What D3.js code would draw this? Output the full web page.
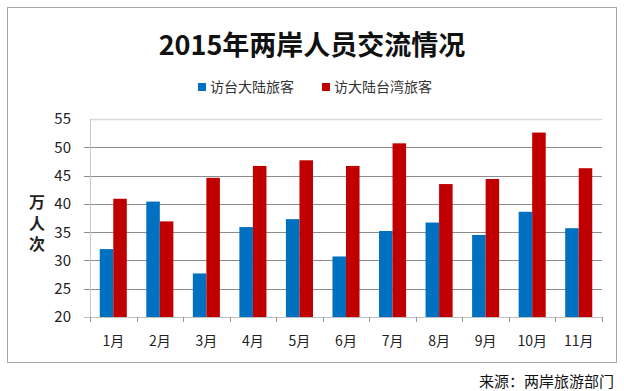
<!DOCTYPE html>
<html>
<head>
<meta charset="utf-8">
<script src="https://cdn.jsdelivr.net/npm/d3@7"></script>
<style>
  body { margin: 0; background: #fff; }
  svg { display: block; font-family: "Noto Sans CJK SC", "Noto Sans", sans-serif; }
</style>
</head>
<body>
<div id="chart"></div>
<script>
// data
const months = ["1月", "2月", "3月", "4月", "5月", "6月", "7月", "8月", "9月", "10月", "11月"];
const toTaiwan = [32.0, 40.4, 27.7, 35.9, 37.3, 30.7, 35.2, 36.7, 34.5, 38.6, 35.7];
const toMainland = [40.9, 36.9, 44.6, 46.7, 47.7, 46.7, 50.7, 43.5, 44.4, 52.6, 46.3];
const seriesNames = ["访台大陆旅客", "访大陆台湾旅客"];
const colors = ["#0070C0", "#C00000"];
const yTicks = [20, 25, 30, 35, 40, 45, 50, 55];

const width = 624;
const height = 391;
const margin = {left: 90, right: 22, top: 119, bottom: 74};

const svg = d3.select("#chart")
  .append("svg")
  .attr("width", width)
  .attr("height", height);

// outer frame
svg.append("rect")
  .attr("x", 7.5).attr("y", 7.5)
  .attr("width", 609).attr("height", 355)
  .attr("fill", "none")
  .attr("stroke", "#a6a6a6");

const x = d3.scaleBand()
  .domain(months)
  .range([margin.left, width - margin.right])
  .paddingInner(0)
  .paddingOuter(0);

const xInner = d3.scaleBand()
  .domain([0, 1])
  .range([0, x.bandwidth()])
  .paddingOuter(0.72);

const y = d3.scaleLinear()
  .domain([20, 55])
  .range([height - margin.bottom, margin.top]);

// gridlines + y labels
const yAxis = svg.append("g");
yTicks.forEach(t => {
  yAxis.append("line")
    .attr("x1", t === 55 ? margin.left : margin.left - 6)
    .attr("x2", width - margin.right)
    .attr("y1", Math.round(y(t)) + 0.5)
    .attr("y2", Math.round(y(t)) + 0.5)
    .attr("stroke", t === 55 ? "#d9d9d9" : (t === 20 ? "#c0c0c0" : "#8c8c8c"))
    .attr("stroke-width", t === 55 ? 1.5 : 1);
  yAxis.append("text")
    .attr("x", 71)
    .attr("y", y(t))
    .attr("dy", "0.36em")
    .attr("text-anchor", "end")
    .attr("font-size", 15)
    .attr("fill", "#222")
    .text(t);
});

// y axis line
svg.append("line")
  .attr("x1", margin.left + 0.5).attr("x2", margin.left + 0.5)
  .attr("y1", margin.top).attr("y2", height - margin.bottom + 5)
  .attr("stroke", "#c8c8c8");

// x ticks
months.forEach(m => {
  const xx = Math.round(x(m)) + 0.5;
  svg.append("line")
    .attr("x1", xx).attr("x2", xx)
    .attr("y1", y(20)).attr("y2", y(20) + 5)
    .attr("stroke", "#999");
});
svg.append("line")
  .attr("x1", width - margin.right + 0.5).attr("x2", width - margin.right + 0.5)
  .attr("y1", y(20)).attr("y2", y(20) + 5)
  .attr("stroke", "#999");

// bars
const groups = svg.append("g")
  .selectAll("g")
  .data(months)
  .join("g")
  .attr("transform", d => `translate(${x(d)},0)`);

[toTaiwan, toMainland].forEach((vals, s) => {
  groups.append("rect")
    .attr("x", xInner(s))
    .attr("width", xInner.bandwidth())
    .attr("y", (d, i) => y(vals[i]))
    .attr("height", (d, i) => y(20) - y(vals[i]))
    .attr("fill", colors[s]);
});

// x labels
svg.append("g")
  .selectAll("text")
  .data(months)
  .join("text")
  .attr("x", d => x(d) + x.bandwidth() / 2)
  .attr("y", 346)
  .attr("text-anchor", "middle")
  .attr("font-size", 14)
  .attr("fill", "#222")
  .text(d => d);

// title
svg.append("text")
  .attr("x", 312)
  .attr("y", 55)
  .attr("text-anchor", "middle")
  .attr("font-size", 27)
  .attr("font-weight", "bold")
  .attr("fill", "#111")
  .text("2015年两岸人员交流情况");

// legend
const legendX = [198, 322];
seriesNames.forEach((name, i) => {
  svg.append("rect")
    .attr("x", legendX[i]).attr("y", 83)
    .attr("width", 8).attr("height", 8)
    .attr("fill", colors[i]);
  svg.append("text")
    .attr("x", legendX[i] + 12)
    .attr("y", 92)
    .attr("font-size", 14)
    .attr("fill", "#333")
    .text(name);
});

// y axis title, written vertically
svg.append("text")
  .attr("x", 37)
  .attr("y", 194)
  .attr("writing-mode", "tb")
  .attr("letter-spacing", 5)
  .attr("font-size", 16)
  .attr("font-weight", "bold")
  .attr("fill", "#222")
  .text("万人次");

// source
svg.append("text")
  .attr("x", 614)
  .attr("y", 387)
  .attr("text-anchor", "end")
  .attr("font-size", 15)
  .attr("fill", "#111")
  .text("来源：两岸旅游部门");
</script>
</body>
</html>
